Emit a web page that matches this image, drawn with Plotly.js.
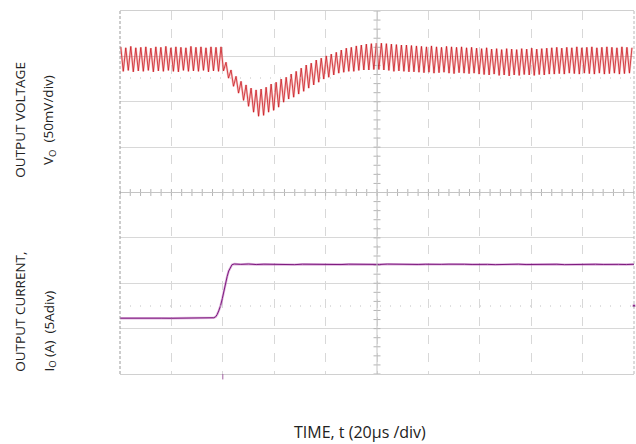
<!DOCTYPE html>
<html>
<head>
<meta charset="utf-8">
<script src="https://cdn.plot.ly/plotly-3.0.1.min.js"></script>
<style>
  html, body { margin: 0; padding: 0; background: #ffffff; }
  #chart { width: 636px; height: 444px; }
</style>
</head>
<body>
<div id="chart"></div>
<script>
// ---------------- DATA ----------------
// Time base: 20 µs/div, 10 divisions
const timeRangeUs = [0, 200];
// Switching ripple: one peak and one trough per cycle
const rippleFirstPeakUs = 0.3;
const ripplePeriodUs = 1.95;

// Output voltage deviation (mV), 50 mV/div – peak of each ripple cycle
const voltPeaks_mV = [
  13, 12, 13.5, 12, 12.5, 13, 11.5, 13, 12.5, 13.5, 12, 13, 12.5, 12, 13.5, 12.5, 13, 12, 13, 12.5, 13,
  -4, -12.5, -19.5, -25, -29, -32.5, -34.5, -33.5, -31.5, -28, -26, -22.5, -20.5, -17, -14, -10.5, -7, -5, -1.5, 0.5, 3, 5, 7, 9.5, 11.5, 12.5,
  14, 15, 16, 16.5, 17, 17, 16.5, 16, 15.5, 15, 15, 14.5,
  14, 13.5, 13, 14, 13, 12.5, 13.5, 13, 12.5, 13, 12, 12.5,
  11.5, 11, 12, 10.5, 11, 10, 11, 10.5, 10, 11, 10.5, 11.5, 10.5, 11, 11.5,
  12, 12.5, 11.5, 12.5, 12, 13, 12, 12.5, 13, 12, 12.5, 13, 12.5, 12, 13, 12.5, 12
];
// Output voltage deviation (mV) – trough of each ripple cycle
const voltTroughs_mV = [
  -14, -13, -14.5, -13.5, -14, -13, -14.5, -13.5, -14, -13, -14, -14.5, -13, -14, -13.5, -14, -13, -14.5, -13.5, -14, -13.5,
  -21.5, -30.5, -38, -46, -52.5, -59, -63.5, -62.5, -59, -57, -53.5, -48, -44.5, -42.5, -39, -36, -32.5, -29, -26, -22.5, -20.5, -18, -16, -15, -14, -14,
  -13, -12.5, -12.5, -12, -12, -12.5, -13, -14, -13.5, -14, -14.5, -14.5,
  -15, -15.5, -15, -16, -15.5, -15, -16, -16.5, -15.5, -16, -16.5, -16,
  -17, -17.5, -18, -17, -18.5, -18, -19, -18, -18.5, -17.5, -18, -18.5, -17.5, -18, -17,
  -17, -16.5, -17, -16, -16.5, -17, -16, -16.5, -17, -16, -17, -16.5, -16, -17, -16.5, -16, -17
];

// Output current (A), 5 A/div
const currentTimeUs = [
  0, 4, 8, 12, 16, 20, 24, 28, 32, 35,
  36.5, 37.2, 37.8, 38.4, 39.1, 39.8, 40.4, 41, 41.7, 42.3, 43, 43.6, 44.5,
  47, 50, 53, 56, 59, 62, 65, 68, 71, 74, 77, 80, 83, 86, 89, 92, 95, 98, 101, 104,
  107, 110, 113, 116, 119, 122, 125, 128, 131, 134, 137, 140, 143, 146, 149, 152, 155,
  158, 161, 164, 167, 170, 173, 176, 179, 182, 185, 188, 191, 194, 197, 200
];
const currentA = [
  0, 0.02, -0.02, 0.01, 0, -0.01, 0.02, 0, 0.01, 0.02,
  0.05, 0.15, 0.4, 0.8, 1.35, 2.15, 3.05, 3.85, 4.6, 5.2, 5.65, 5.9, 5.97,
  5.93, 5.97, 5.91, 5.95, 5.92, 5.96, 5.94, 5.90, 5.95, 5.93,
  5.97, 5.92, 5.94, 5.91, 5.95, 5.93, 5.90, 5.94, 5.92, 5.96,
  5.93, 5.91, 5.95, 5.92, 5.94, 5.90, 5.93, 5.95, 5.91, 5.94,
  5.92, 5.96, 5.93, 5.90, 5.94, 5.92, 5.95, 5.91, 5.93, 5.96,
  5.92, 5.94, 5.90, 5.93, 5.95, 5.91, 5.94, 5.92, 5.95, 5.93,
  5.91, 5.94
];
// Current channel reference marker level (A), at the right edge
const currentRefA = 1.36;

// Labels
const xTitle = 'TIME, t (20µs /div)';
const vLabel1 = 'OUTPUT VOLTAGE';
const vLabel2 = 'V<sub>O</sub>  (50mV/div)';
const iLabel1 = 'OUTPUT CURRENT,';
const iLabel2 = 'I<sub>O</sub> (A)  (5Adiv)';

// ---------------- SCALES ----------------
const voltDiv = 50, ampDiv = 5, nDivY = 8;
const voltRange = [-347.5, 52.5];   // 8 div of 50 mV
const ampRange = [-6.15, 33.85];    // 8 div of 5 A
const voltCenter = (voltRange[0] + voltRange[1]) / 2;
const timeCenter = (timeRangeUs[0] + timeRangeUs[1]) / 2;

// build voltage waveform (peak, trough alternating)
const vT = [], vV = [];
for (let k = 0; k < voltPeaks_mV.length; k++) {
  const tp = rippleFirstPeakUs + k * ripplePeriodUs;
  if (tp <= timeRangeUs[1]) { vT.push(tp); vV.push(voltPeaks_mV[k]); }
  const tt = tp + ripplePeriodUs / 2;
  if (tt <= timeRangeUs[1]) { vT.push(tt); vV.push(voltTroughs_mV[k]); }
}

// center-line graticule ticks (every 0.2 div)
const hTickX = [], hTickY = [];
for (let t = timeRangeUs[0]; t <= timeRangeUs[1] + 1e-9; t += 4) { hTickX.push(t); hTickY.push(voltCenter); }
const vTickX = [], vTickY = [];
for (let v = voltRange[0]; v <= voltRange[1] + 1e-9; v += 10) { vTickX.push(timeCenter); vTickY.push(v); }

const traces = [
  { x: hTickX, y: hTickY, type: 'scatter', mode: 'markers', hoverinfo: 'skip', showlegend: false,
    marker: { symbol: 'line-ns', size: 5, line: { color: '#b5b5b5', width: 1 } } },
  { x: vTickX, y: vTickY, type: 'scatter', mode: 'markers', hoverinfo: 'skip', showlegend: false,
    marker: { symbol: 'line-ew', size: 5, line: { color: '#b5b5b5', width: 1 } } },
  // voltage: persistence halo + core
  { x: vT, y: vV, type: 'scatter', mode: 'lines', showlegend: false, hoverinfo: 'skip',
    line: { color: 'rgba(236,125,125,0.45)', width: 2.2 } },
  { x: vT, y: vV, type: 'scatter', mode: 'lines', showlegend: false,
    line: { color: '#c8141c', width: 0.75 } },
  // current
  { x: currentTimeUs, y: currentA, yaxis: 'y2', type: 'scatter', mode: 'lines', showlegend: false, hoverinfo: 'skip',
    line: { color: 'rgba(190,110,190,0.55)', width: 2.4 } },
  { x: currentTimeUs, y: currentA, yaxis: 'y2', type: 'scatter', mode: 'lines', showlegend: false,
    line: { color: '#7e1a7e', width: 1.0 } },
  // channel ground marker at right edge
  { x: [timeRangeUs[1]], y: [currentRefA], yaxis: 'y2', type: 'scatter', mode: 'markers', showlegend: false, hoverinfo: 'skip', cliponaxis: false,
    marker: { symbol: 'square', size: 2.5, color: '#8a2a8a' } }
];

const gridCol = '#d8d8d8';
const shapes = [
  // solid center cross
  { type: 'line', xref: 'x', yref: 'paper', x0: timeCenter, x1: timeCenter, y0: 0, y1: 1, line: { color: '#c4c4c4', width: 1 } },
  { type: 'line', xref: 'paper', yref: 'y', x0: 0, x1: 1, y0: voltCenter, y1: voltCenter, line: { color: '#c4c4c4', width: 1 } },
  // frame sides (dashed)
  { type: 'line', xref: 'paper', yref: 'paper', x0: 0, x1: 0, y0: 0, y1: 1, line: { color: '#9a9a9a', width: 1, dash: '3px,2px' } },
  { type: 'line', xref: 'paper', yref: 'paper', x0: 1, x1: 1, y0: 0, y1: 1, line: { color: '#b8b8b8', width: 1, dash: '3px,2px' } },
  // channel reference dotted rows
  { type: 'line', xref: 'paper', yref: 'paper', x0: 0, x1: 1, y0: 0.8154, y1: 0.8154, line: { color: '#c0c0c0', width: 1, dash: '1px,9px' } },
  { type: 'line', xref: 'paper', yref: 'paper', x0: 0, x1: 1, y0: 0.1873, y1: 0.1873, line: { color: '#c0c0c0', width: 1, dash: '1px,9px' } },
  // trigger mark at bottom
  { type: 'line', xref: 'x', yref: 'paper', x0: 40, x1: 40, y0: 0, y1: -0.015, line: { color: '#a060a0', width: 1 } }
];

const txtFont = { family: 'Open Sans, Liberation Sans, sans-serif', size: 13.5, color: '#222222' };
const annotations = [
  { text: xTitle, xref: 'paper', yref: 'paper', x: 0.467, y: -0.16, xanchor: 'center', yanchor: 'middle', showarrow: false,
    font: { family: txtFont.family, size: 16, color: '#222222' } },
  { text: vLabel1, xref: 'paper', yref: 'paper', x: -0.195, y: 0.70, xanchor: 'center', yanchor: 'middle', textangle: -90, showarrow: false, font: txtFont },
  { text: vLabel2, xref: 'paper', yref: 'paper', x: -0.138, y: 0.70, xanchor: 'center', yanchor: 'middle', textangle: -90, showarrow: false, font: txtFont },
  { text: iLabel1, xref: 'paper', yref: 'paper', x: -0.195, y: 0.0, xanchor: 'center', yanchor: 'bottom', textangle: -90, showarrow: false, font: txtFont },
  { text: iLabel2, xref: 'paper', yref: 'paper', x: -0.138, y: 0.0, xanchor: 'center', yanchor: 'bottom', textangle: -90, showarrow: false, font: txtFont }
];

const layout = {
  width: 636, height: 444,
  margin: { l: 120, r: 2, t: 11, b: 70, pad: 0 },
  paper_bgcolor: '#ffffff', plot_bgcolor: '#ffffff',
  showlegend: false,
  xaxis: { range: timeRangeUs, tick0: 0, dtick: 20, showgrid: true, gridcolor: gridCol, griddash: 'dash', gridwidth: 1,
           zeroline: false, showticklabels: false, ticks: '', showline: true, mirror: true, linecolor: '#d0d0d0', linewidth: 1, fixedrange: true },
  yaxis: { range: voltRange, tick0: voltRange[0], dtick: voltDiv, showgrid: true, gridcolor: gridCol, gridwidth: 1,
           zeroline: false, showticklabels: false, ticks: '', showline: false, fixedrange: true },
  yaxis2: { range: ampRange, overlaying: 'y', side: 'right', showgrid: false, zeroline: false, showticklabels: false, ticks: '', showline: false, fixedrange: true },
  shapes: shapes,
  annotations: annotations
};

Plotly.newPlot('chart', traces, layout, { displayModeBar: false, staticPlot: true });
</script>
</body>
</html>
